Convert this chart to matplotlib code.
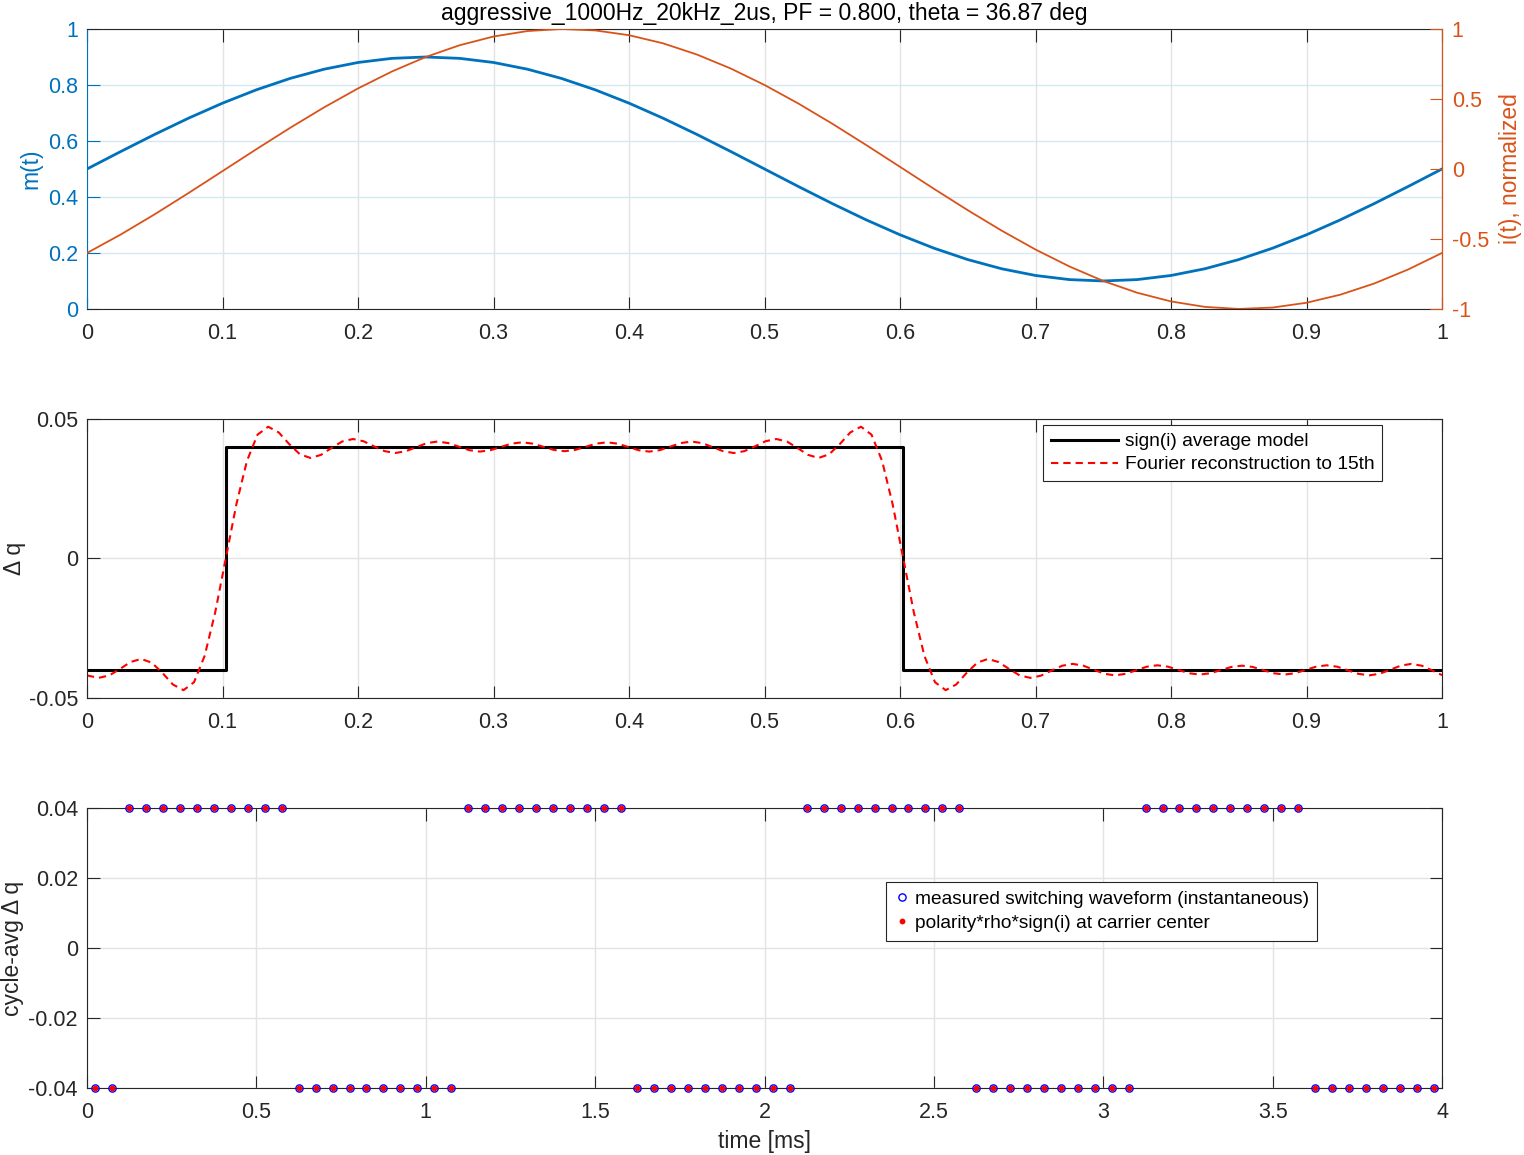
import matplotlib
matplotlib.use('Agg')
from matplotlib import pyplot as plt
from matplotlib.ticker import FormatStrFormatter

plt.rcParams['font.family'] = ['Liberation Sans', 'DejaVu Sans']

# ---- data: top panel (one fundamental period, ms) ----
t_ms = [0.000, 0.025, 0.050, 0.075, 0.100, 0.125, 0.150, 0.175, 0.200, 0.225,
        0.250, 0.275, 0.300, 0.325, 0.350, 0.375, 0.400, 0.425, 0.450, 0.475,
        0.500, 0.525, 0.550, 0.575, 0.600, 0.625, 0.650, 0.675, 0.700, 0.725,
        0.750, 0.775, 0.800, 0.825, 0.850, 0.875, 0.900, 0.925, 0.950, 0.975, 1.000]
m_t = [0.5000, 0.5626, 0.6236, 0.6816, 0.7351, 0.7828, 0.8236, 0.8564, 0.8804, 0.8951,
       0.9000, 0.8951, 0.8804, 0.8564, 0.8236, 0.7828, 0.7351, 0.6816, 0.6236, 0.5626,
       0.5000, 0.4374, 0.3764, 0.3184, 0.2649, 0.2172, 0.1764, 0.1436, 0.1196, 0.1049,
       0.1000, 0.1049, 0.1196, 0.1436, 0.1764, 0.2172, 0.2649, 0.3184, 0.3764, 0.4374, 0.5000]
i_norm = [-0.6000, -0.4675, -0.3234, -0.1714, -0.0152, 0.1414, 0.2945, 0.4404, 0.5754, 0.6963,
          0.8000, 0.8840, 0.9463, 0.9852, 0.9999, 0.9899, 0.9556, 0.8979, 0.8180, 0.7180,
          0.6000, 0.4675, 0.3234, 0.1714, 0.0152, -0.1414, -0.2945, -0.4404, -0.5754, -0.6963,
          -0.8000, -0.8840, -0.9463, -0.9852, -0.9999, -0.9899, -0.9556, -0.8979, -0.8180, -0.7180, -0.6000]

# ---- data: middle panel ----
step_t = [0.0, 0.1024, 0.6024, 1.0]
step_dq = [-0.04, 0.04, -0.04, -0.04]

fourier_t = [0.0, 0.0008, 0.0086, 0.0165, 0.0243, 0.0321, 0.0399, 0.0477, 0.0555, 0.0633,
             0.0712, 0.0790, 0.0868, 0.0946, 0.1024, 0.1102, 0.1180, 0.1258, 0.1337, 0.1415,
             0.1493, 0.1571, 0.1649, 0.1727, 0.1805, 0.1883, 0.1962, 0.2040, 0.2118, 0.2196,
             0.2274, 0.2352, 0.2430, 0.2508, 0.2587, 0.2665, 0.2743, 0.2821, 0.2899, 0.2977,
             0.3055, 0.3133, 0.3212, 0.3290, 0.3368, 0.3446, 0.3524, 0.3602, 0.3680, 0.3758,
             0.3837, 0.3915, 0.3993, 0.4071, 0.4149, 0.4227, 0.4305, 0.4383, 0.4462, 0.4540,
             0.4618, 0.4696, 0.4774, 0.4852, 0.4930, 0.5008, 0.5087, 0.5165, 0.5243, 0.5321,
             0.5399, 0.5477, 0.5555, 0.5633, 0.5712, 0.5790, 0.5868, 0.5946, 0.6024, 0.6102,
             0.6180, 0.6258, 0.6337, 0.6415, 0.6493, 0.6571, 0.6649, 0.6727, 0.6805, 0.6883,
             0.6962, 0.7040, 0.7118, 0.7196, 0.7274, 0.7352, 0.7430, 0.7508, 0.7587, 0.7665,
             0.7743, 0.7821, 0.7899, 0.7977, 0.8055, 0.8133, 0.8212, 0.8290, 0.8368, 0.8446,
             0.8524, 0.8602, 0.8680, 0.8758, 0.8837, 0.8915, 0.8993, 0.9071, 0.9149, 0.9227,
             0.9305, 0.9383, 0.9462, 0.9540, 0.9618, 0.9696, 0.9774, 0.9852, 0.9930, 1.0]
fourier_dq = [-0.04182, -0.04201, -0.04280, -0.04191, -0.03961, -0.03712, -0.03601, -0.03733, -0.04094, -0.04515,
              -0.04721, -0.04434, -0.03492, -0.01933, 0.0, 0.01933, 0.03492, 0.04434, 0.04721, 0.04515,
              0.04094, 0.03733, 0.03601, 0.03712, 0.03961, 0.04191, 0.04280, 0.04201, 0.04019, 0.03846,
              0.03778, 0.03841, 0.03989, 0.04133, 0.04190, 0.04135, 0.04006, 0.03880, 0.03829, 0.03878,
              0.03997, 0.04114, 0.04162, 0.04114, 0.04001, 0.03888, 0.03842, 0.03888, 0.04001, 0.04114,
              0.04162, 0.04114, 0.03997, 0.03878, 0.03829, 0.03880, 0.04006, 0.04135, 0.04190, 0.04133,
              0.03989, 0.03841, 0.03778, 0.03846, 0.04019, 0.04201, 0.04280, 0.04191, 0.03961, 0.03712,
              0.03601, 0.03733, 0.04094, 0.04515, 0.04721, 0.04434, 0.03492, 0.01933, 0.0, -0.01933,
              -0.03492, -0.04434, -0.04721, -0.04515, -0.04094, -0.03733, -0.03601, -0.03712, -0.03961, -0.04191,
              -0.04280, -0.04201, -0.04019, -0.03846, -0.03778, -0.03841, -0.03989, -0.04133, -0.04190, -0.04135,
              -0.04006, -0.03880, -0.03829, -0.03878, -0.03997, -0.04114, -0.04162, -0.04114, -0.04001, -0.03888,
              -0.03842, -0.03888, -0.04001, -0.04114, -0.04162, -0.04114, -0.03997, -0.03878, -0.03829, -0.03880,
              -0.04006, -0.04135, -0.04190, -0.04133, -0.03989, -0.03841, -0.03778, -0.03846, -0.04019, -0.04182]

# ---- data: bottom panel (carrier centers, ms) ----
carrier_t = [0.025, 0.075, 0.125, 0.175, 0.225, 0.275, 0.325, 0.375, 0.425, 0.475,
             0.525, 0.575, 0.625, 0.675, 0.725, 0.775, 0.825, 0.875, 0.925, 0.975,
             1.025, 1.075, 1.125, 1.175, 1.225, 1.275, 1.325, 1.375, 1.425, 1.475,
             1.525, 1.575, 1.625, 1.675, 1.725, 1.775, 1.825, 1.875, 1.925, 1.975,
             2.025, 2.075, 2.125, 2.175, 2.225, 2.275, 2.325, 2.375, 2.425, 2.475,
             2.525, 2.575, 2.625, 2.675, 2.725, 2.775, 2.825, 2.875, 2.925, 2.975,
             3.025, 3.075, 3.125, 3.175, 3.225, 3.275, 3.325, 3.375, 3.425, 3.475,
             3.525, 3.575, 3.625, 3.675, 3.725, 3.775, 3.825, 3.875, 3.925, 3.975]
measured_dq = [-0.04, -0.04, 0.04, 0.04, 0.04, 0.04, 0.04, 0.04, 0.04, 0.04,
               0.04, 0.04, -0.04, -0.04, -0.04, -0.04, -0.04, -0.04, -0.04, -0.04,
               -0.04, -0.04, 0.04, 0.04, 0.04, 0.04, 0.04, 0.04, 0.04, 0.04,
               0.04, 0.04, -0.04, -0.04, -0.04, -0.04, -0.04, -0.04, -0.04, -0.04,
               -0.04, -0.04, 0.04, 0.04, 0.04, 0.04, 0.04, 0.04, 0.04, 0.04,
               0.04, 0.04, -0.04, -0.04, -0.04, -0.04, -0.04, -0.04, -0.04, -0.04,
               -0.04, -0.04, 0.04, 0.04, 0.04, 0.04, 0.04, 0.04, 0.04, 0.04,
               0.04, 0.04, -0.04, -0.04, -0.04, -0.04, -0.04, -0.04, -0.04, -0.04]
model_dq = list(measured_dq)

x_ticks_1ms = [0, 0.1, 0.2, 0.3, 0.4, 0.5, 0.6, 0.7, 0.8, 0.9, 1]
x_ticks_4ms = [0, 0.5, 1, 1.5, 2, 2.5, 3, 3.5, 4]

BLUE = '#0072BD'
ORANGE = '#D95319'
TXT = '#262626'
GRID = '#e3e3e3'
FS = 15.5   # tick labels
LFS = 16.5  # axis labels / title
LEGFS = 13.8


def style(ax, xticks, yticks):
    ax.set_xticks(xticks)
    ax.set_yticks(yticks)
    ax.xaxis.set_major_formatter(FormatStrFormatter('%g'))
    ax.yaxis.set_major_formatter(FormatStrFormatter('%g'))
    ax.tick_params(direction='in', length=9, width=0.8, labelsize=FS, colors=TXT,
                   top=True, right=True)
    ax.tick_params(axis='x', pad=10)
    ax.tick_params(axis='y', pad=6.5)
    ax.grid(True, color=GRID, linewidth=1)
    ax.set_axisbelow(True)
    for s in ax.spines.values():
        s.set_color(TXT)
        s.set_linewidth(0.8)


fig = plt.figure(figsize=(15.24, 11.55), dpi=100)

# top panel
ax1 = fig.add_axes([0.0571, 0.7325, 0.8891, 0.2424])
style(ax1, x_ticks_1ms, [0, 0.2, 0.4, 0.6, 0.8, 1])
ax1.tick_params(axis='y', colors=BLUE, right=False)
ax1.yaxis.grid(True, color='#d6e8f4')
ax1.spines['left'].set_color(BLUE)
ax1.plot(t_ms, m_t, color=BLUE, lw=2.0)
ax1.set_xlim(0, 1)
ax1.set_ylim(0, 1)
ax1.set_ylabel('m(t)', color=BLUE, fontsize=LFS)
ax1.set_title('aggressive_1000Hz_20kHz_2us, PF = 0.800, theta = 36.87 deg',
              fontsize=LFS, color='k', pad=6.5)

ax2 = ax1.twinx()
ax2.plot(t_ms, i_norm, color=ORANGE, lw=1.3)
ax2.set_ylim(-1, 1)
ax2.set_yticks([-1, -0.5, 0, 0.5, 1])
ax2.yaxis.set_major_formatter(FormatStrFormatter('%g'))
ax2.tick_params(axis='y', direction='in', length=9, width=0.8, labelsize=FS,
                colors=ORANGE, pad=7)
for s in ax2.spines.values():
    s.set_visible(False)
ax2.spines['right'].set_visible(True)
ax2.spines['right'].set_color(ORANGE)
ax2.spines['right'].set_linewidth(0.8)
ax2.set_ylabel('i(t), normalized', color=ORANGE, fontsize=LFS, labelpad=7)

# middle panel
ax3 = fig.add_axes([0.0571, 0.3957, 0.8891, 0.2416])
style(ax3, x_ticks_1ms, [-0.05, 0, 0.05])
ax3.step(step_t, step_dq, where='post', color='k', lw=2.2, label='sign(i) average model')
ax3.plot(fourier_t, fourier_dq, color='r', lw=1.5, dashes=(3.5, 2.4),
         label='Fourier reconstruction to 15th')
ax3.set_xlim(0, 1)
ax3.set_ylim(-0.05, 0.05)
ax3.set_ylabel('\u0394 q', fontsize=LFS, color=TXT, labelpad=2)
leg = ax3.legend(loc='upper right', bbox_to_anchor=(0.956, 0.979), fontsize=LEGFS,
                 fancybox=False, framealpha=1, edgecolor=TXT, handlelength=3.5,
                 borderpad=0.42, labelspacing=0.3, handletextpad=0.35, borderaxespad=0)
leg.get_frame().set_linewidth(0.8)

# bottom panel
ax4 = fig.add_axes([0.0571, 0.0580, 0.8891, 0.2424])
style(ax4, x_ticks_4ms, [-0.04, -0.02, 0, 0.02, 0.04])
ax4.plot(carrier_t, measured_dq, 'o', ms=5.2, mfc='none', mec='b', mew=1,
         label='measured switching waveform (instantaneous)', clip_on=False, zorder=3)
ax4.plot(carrier_t, model_dq, 'o', ms=4.2, mfc='r', mec='r', mew=0,
         label='polarity*rho*sign(i) at carrier center', clip_on=False, zorder=4)
ax4.set_xlim(0, 4)
ax4.set_ylim(-0.04, 0.04)
ax4.set_xlabel('time [ms]', fontsize=LFS, color=TXT, labelpad=5)
ax4.set_ylabel('cycle-avg \u0394 q', fontsize=LFS, color=TXT, labelpad=3)
leg2 = ax4.legend(loc='upper right', bbox_to_anchor=(0.908, 0.736), fontsize=LEGFS,
                  fancybox=False, framealpha=1, edgecolor=TXT, handlelength=0.8,
                  borderpad=0.45, labelspacing=0.35, handletextpad=0.25, borderaxespad=0)
leg2.get_frame().set_linewidth(0.8)

plt.savefig('out.png', dpi=100)
